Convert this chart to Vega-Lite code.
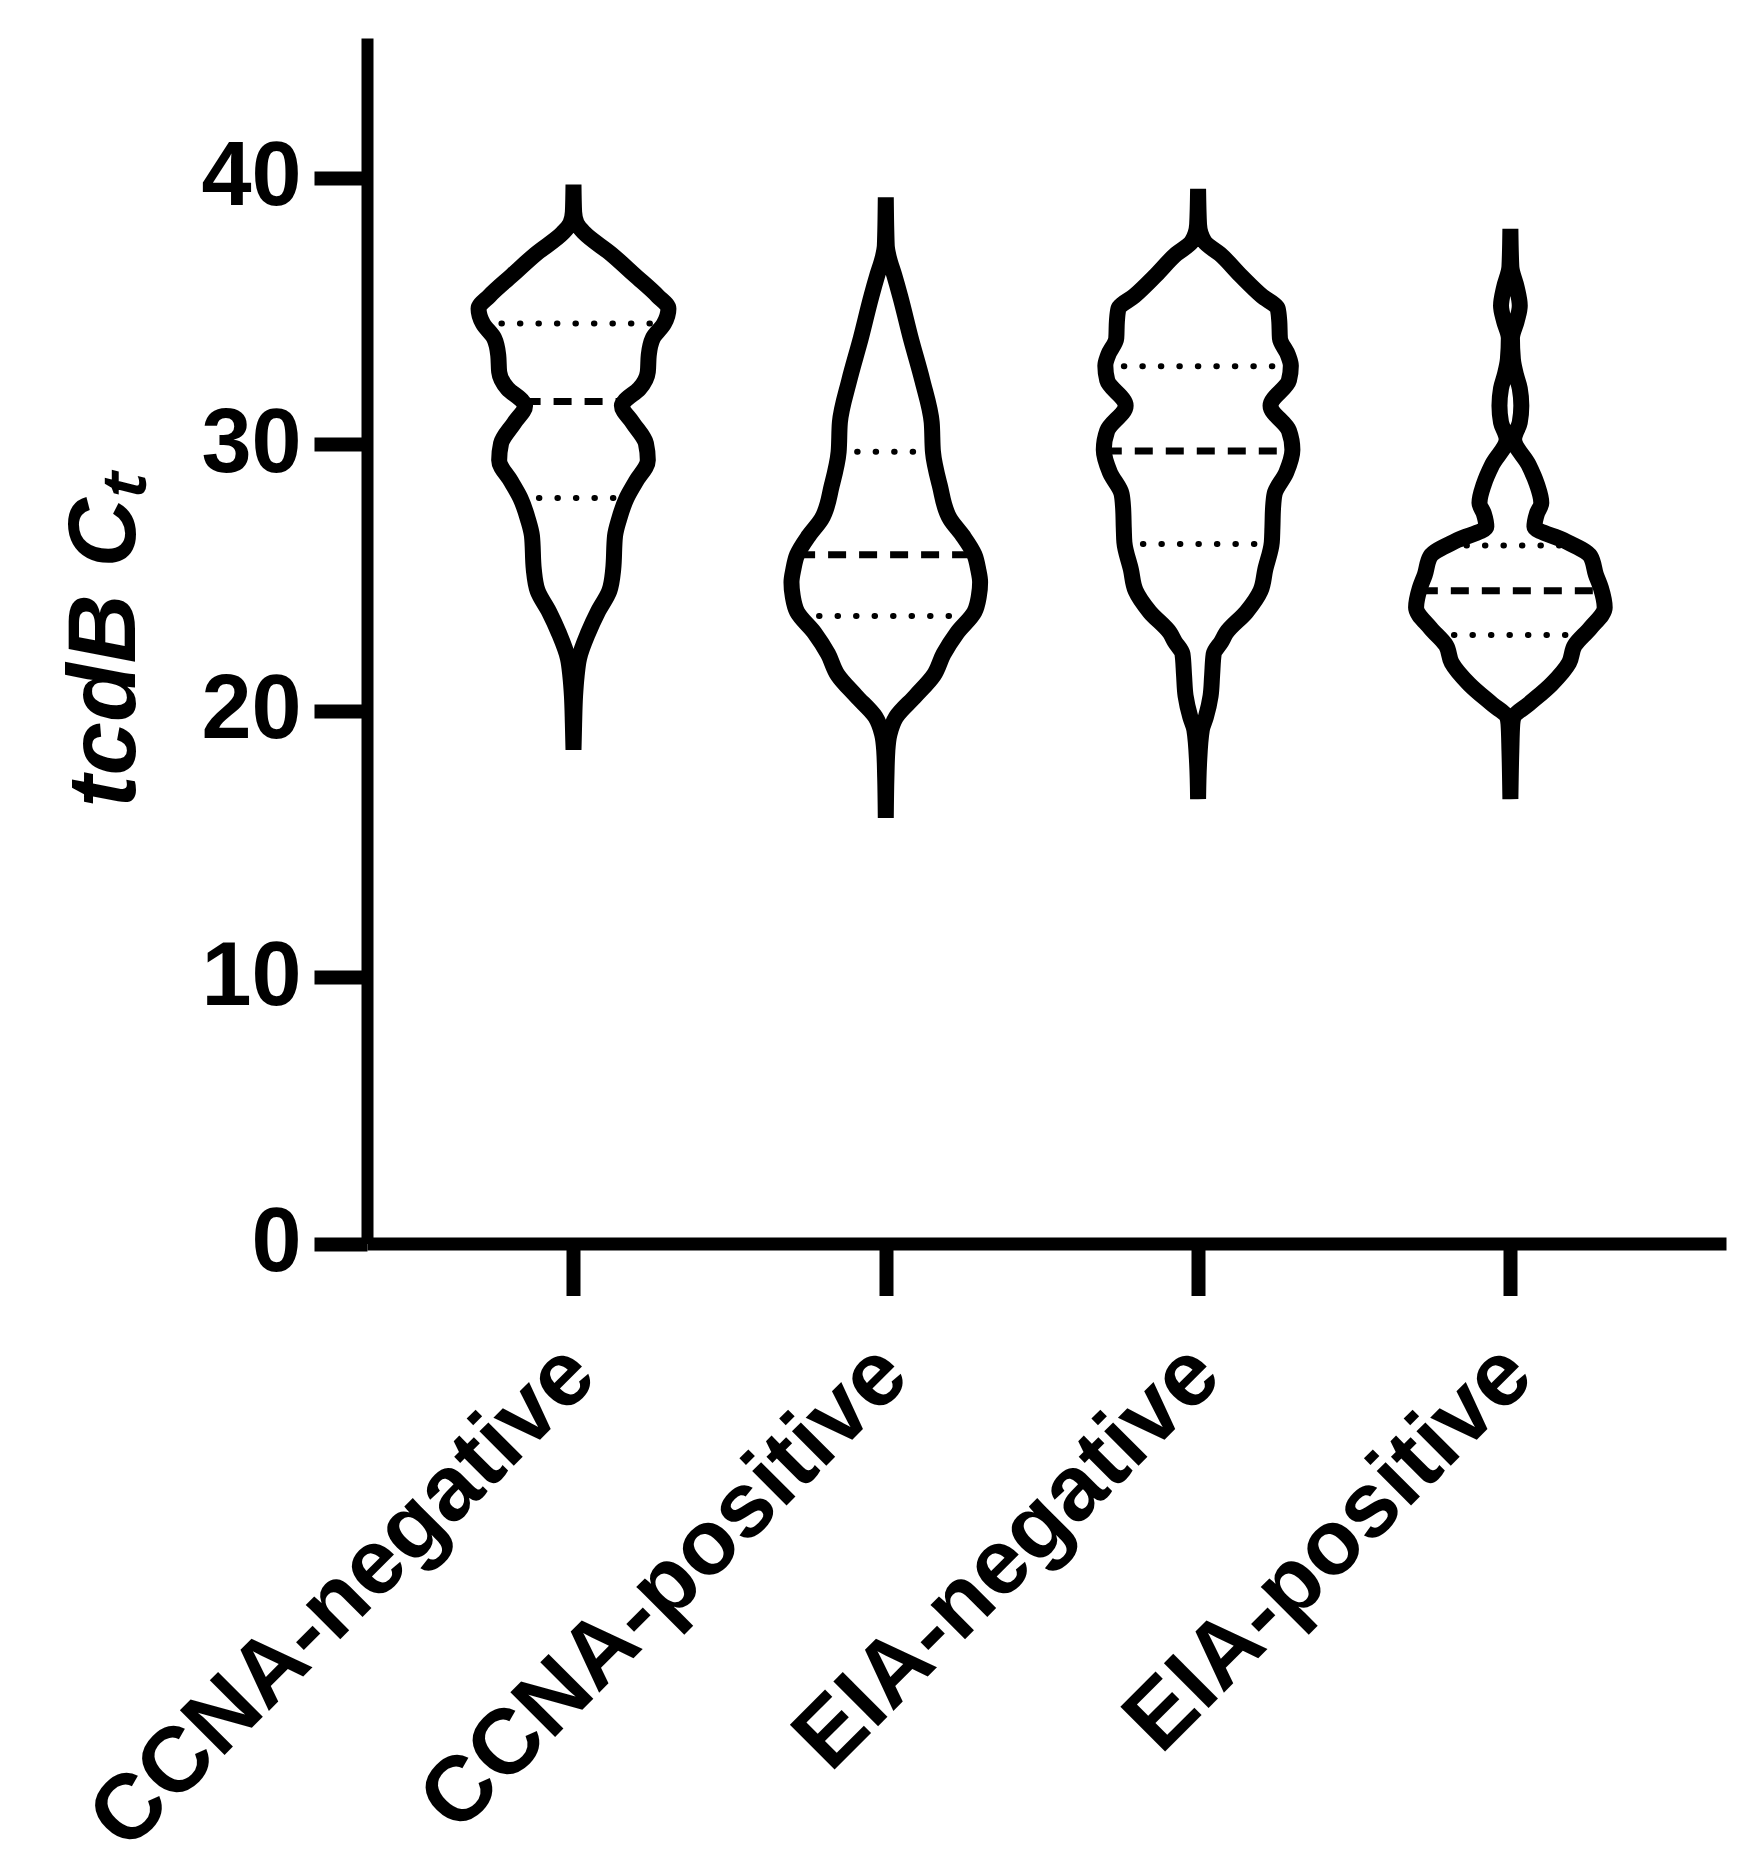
{
  "$schema": "https://vega.github.io/schema/vega-lite/v6.json",
  "width": 1359,
  "height": 1205.5,
  "autosize": "none",
  "padding": {"left": 367, "top": 38, "right": 22, "bottom": 624.5},
  "background": "white",
  "config": {
    "view": {"stroke": null},
    "axis": {"grid": false, "domainColor": "black", "tickColor": "black", "labelColor": "black", "titleColor": "black", "labelFont": "Liberation Sans", "titleFont": "Liberation Sans", "labelFontWeight": "bold", "titleFontWeight": "bold", "labelLimit": 0}
  },
  "datasets": {
    "violin": [
      {"g": 1, "ct": 18.53, "lo": 1.0, "hi": 1.0},
      {"g": 1, "ct": 19.5, "lo": 0.998, "hi": 1.002},
      {"g": 1, "ct": 20.55, "lo": 0.995, "hi": 1.005},
      {"g": 1, "ct": 21.3, "lo": 0.99, "hi": 1.01},
      {"g": 1, "ct": 21.97, "lo": 0.982, "hi": 1.018},
      {"g": 1, "ct": 22.92, "lo": 0.953, "hi": 1.047},
      {"g": 1, "ct": 23.71, "lo": 0.922, "hi": 1.078},
      {"g": 1, "ct": 24.5, "lo": 0.885, "hi": 1.115},
      {"g": 1, "ct": 25.29, "lo": 0.873, "hi": 1.127},
      {"g": 1, "ct": 26.56, "lo": 0.867, "hi": 1.133},
      {"g": 1, "ct": 27.19, "lo": 0.854, "hi": 1.146},
      {"g": 1, "ct": 27.98, "lo": 0.83, "hi": 1.17},
      {"g": 1, "ct": 28.61, "lo": 0.8, "hi": 1.2},
      {"g": 1, "ct": 29.4, "lo": 0.762, "hi": 1.238},
      {"g": 1, "ct": 30.03, "lo": 0.768, "hi": 1.232},
      {"g": 1, "ct": 30.82, "lo": 0.811, "hi": 1.189},
      {"g": 1, "ct": 31.45, "lo": 0.845, "hi": 1.155},
      {"g": 1, "ct": 31.61, "lo": 0.837, "hi": 1.163},
      {"g": 1, "ct": 32.09, "lo": 0.789, "hi": 1.211},
      {"g": 1, "ct": 32.72, "lo": 0.762, "hi": 1.238},
      {"g": 1, "ct": 33.35, "lo": 0.759, "hi": 1.241},
      {"g": 1, "ct": 33.98, "lo": 0.746, "hi": 1.254},
      {"g": 1, "ct": 34.53, "lo": 0.71, "hi": 1.29},
      {"g": 1, "ct": 35.09, "lo": 0.696, "hi": 1.304},
      {"g": 1, "ct": 35.56, "lo": 0.73, "hi": 1.27},
      {"g": 1, "ct": 36.35, "lo": 0.804, "hi": 1.196},
      {"g": 1, "ct": 37.14, "lo": 0.879, "hi": 1.121},
      {"g": 1, "ct": 37.93, "lo": 0.965, "hi": 1.035},
      {"g": 1, "ct": 38.3, "lo": 0.99, "hi": 1.01},
      {"g": 1, "ct": 38.72, "lo": 0.998, "hi": 1.002},
      {"g": 1, "ct": 39.75, "lo": 1.0, "hi": 1.0},

      {"g": 2, "ct": 15.97, "lo": 2.0, "hi": 2.0},
      {"g": 2, "ct": 17.5, "lo": 1.998, "hi": 2.002},
      {"g": 2, "ct": 18.5, "lo": 1.995, "hi": 2.005},
      {"g": 2, "ct": 19.13, "lo": 1.988, "hi": 2.012},
      {"g": 2, "ct": 19.76, "lo": 1.967, "hi": 2.033},
      {"g": 2, "ct": 20.55, "lo": 1.905, "hi": 2.095},
      {"g": 2, "ct": 21.34, "lo": 1.846, "hi": 2.154},
      {"g": 2, "ct": 22.13, "lo": 1.815, "hi": 2.185},
      {"g": 2, "ct": 22.92, "lo": 1.772, "hi": 2.228},
      {"g": 2, "ct": 23.71, "lo": 1.716, "hi": 2.284},
      {"g": 2, "ct": 24.3, "lo": 1.702, "hi": 2.298},
      {"g": 2, "ct": 24.82, "lo": 1.698, "hi": 2.302},
      {"g": 2, "ct": 25.3, "lo": 1.704, "hi": 2.296},
      {"g": 2, "ct": 25.85, "lo": 1.716, "hi": 2.284},
      {"g": 2, "ct": 26.56, "lo": 1.753, "hi": 2.247},
      {"g": 2, "ct": 27.19, "lo": 1.794, "hi": 2.206},
      {"g": 2, "ct": 28.45, "lo": 1.827, "hi": 2.173},
      {"g": 2, "ct": 29.72, "lo": 1.849, "hi": 2.151},
      {"g": 2, "ct": 30.82, "lo": 1.853, "hi": 2.147},
      {"g": 2, "ct": 32.4, "lo": 1.883, "hi": 2.117},
      {"g": 2, "ct": 33.98, "lo": 1.92, "hi": 2.08},
      {"g": 2, "ct": 35.56, "lo": 1.954, "hi": 2.046},
      {"g": 2, "ct": 36.35, "lo": 1.973, "hi": 2.027},
      {"g": 2, "ct": 37.0, "lo": 1.99, "hi": 2.01},
      {"g": 2, "ct": 37.46, "lo": 1.997, "hi": 2.003},
      {"g": 2, "ct": 39.27, "lo": 2.0, "hi": 2.0},

      {"g": 3, "ct": 16.68, "lo": 3.0, "hi": 3.0},
      {"g": 3, "ct": 18.0, "lo": 2.997, "hi": 3.003},
      {"g": 3, "ct": 19.29, "lo": 2.988, "hi": 3.012},
      {"g": 3, "ct": 19.76, "lo": 2.975, "hi": 3.025},
      {"g": 3, "ct": 20.55, "lo": 2.96, "hi": 3.04},
      {"g": 3, "ct": 21.34, "lo": 2.955, "hi": 3.045},
      {"g": 3, "ct": 22.13, "lo": 2.95, "hi": 3.05},
      {"g": 3, "ct": 22.6, "lo": 2.925, "hi": 3.075},
      {"g": 3, "ct": 22.92, "lo": 2.91, "hi": 3.09},
      {"g": 3, "ct": 23.71, "lo": 2.845, "hi": 3.155},
      {"g": 3, "ct": 24.5, "lo": 2.8, "hi": 3.2},
      {"g": 3, "ct": 25.29, "lo": 2.785, "hi": 3.215},
      {"g": 3, "ct": 26.32, "lo": 2.764, "hi": 3.236},
      {"g": 3, "ct": 26.87, "lo": 2.762, "hi": 3.238},
      {"g": 3, "ct": 27.6, "lo": 2.76, "hi": 3.24},
      {"g": 3, "ct": 28.14, "lo": 2.755, "hi": 3.245},
      {"g": 3, "ct": 28.93, "lo": 2.718, "hi": 3.282},
      {"g": 3, "ct": 29.79, "lo": 2.698, "hi": 3.302},
      {"g": 3, "ct": 30.51, "lo": 2.709, "hi": 3.291},
      {"g": 3, "ct": 31.45, "lo": 2.768, "hi": 3.232},
      {"g": 3, "ct": 32.4, "lo": 2.709, "hi": 3.291},
      {"g": 3, "ct": 32.95, "lo": 2.703, "hi": 3.297},
      {"g": 3, "ct": 33.35, "lo": 2.712, "hi": 3.288},
      {"g": 3, "ct": 33.98, "lo": 2.738, "hi": 3.262},
      {"g": 3, "ct": 34.61, "lo": 2.74, "hi": 3.26},
      {"g": 3, "ct": 35.09, "lo": 2.745, "hi": 3.255},
      {"g": 3, "ct": 35.56, "lo": 2.795, "hi": 3.205},
      {"g": 3, "ct": 36.35, "lo": 2.865, "hi": 3.135},
      {"g": 3, "ct": 37.14, "lo": 2.93, "hi": 3.07},
      {"g": 3, "ct": 37.61, "lo": 2.98, "hi": 3.02},
      {"g": 3, "ct": 38.25, "lo": 2.997, "hi": 3.003},
      {"g": 3, "ct": 39.59, "lo": 3.0, "hi": 3.0},

      {"g": 4, "ct": 16.68, "lo": 4.0, "hi": 4.0},
      {"g": 4, "ct": 18.5, "lo": 3.997, "hi": 4.003},
      {"g": 4, "ct": 19.5, "lo": 3.994, "hi": 4.006},
      {"g": 4, "ct": 19.76, "lo": 3.99, "hi": 4.01},
      {"g": 4, "ct": 20.24, "lo": 3.942, "hi": 4.058},
      {"g": 4, "ct": 21.0, "lo": 3.868, "hi": 4.132},
      {"g": 4, "ct": 21.8, "lo": 3.812, "hi": 4.188},
      {"g": 4, "ct": 22.45, "lo": 3.794, "hi": 4.206},
      {"g": 4, "ct": 23.1, "lo": 3.744, "hi": 4.256},
      {"g": 4, "ct": 23.87, "lo": 3.698, "hi": 4.302},
      {"g": 4, "ct": 24.6, "lo": 3.71, "hi": 4.29},
      {"g": 4, "ct": 25.1, "lo": 3.726, "hi": 4.274},
      {"g": 4, "ct": 25.8, "lo": 3.744, "hi": 4.256},
      {"g": 4, "ct": 26.4, "lo": 3.83, "hi": 4.17},
      {"g": 4, "ct": 26.9, "lo": 3.923, "hi": 4.077},
      {"g": 4, "ct": 27.4, "lo": 3.915, "hi": 4.085},
      {"g": 4, "ct": 27.8, "lo": 3.901, "hi": 4.099},
      {"g": 4, "ct": 28.5, "lo": 3.915, "hi": 4.085},
      {"g": 4, "ct": 29.24, "lo": 3.942, "hi": 4.058},
      {"g": 4, "ct": 30.19, "lo": 3.988, "hi": 4.012},
      {"g": 4, "ct": 30.82, "lo": 3.97, "hi": 4.03},
      {"g": 4, "ct": 31.45, "lo": 3.965, "hi": 4.035},
      {"g": 4, "ct": 32.1, "lo": 3.97, "hi": 4.03},
      {"g": 4, "ct": 32.6, "lo": 3.982, "hi": 4.018},
      {"g": 4, "ct": 33.19, "lo": 3.992, "hi": 4.008},
      {"g": 4, "ct": 33.98, "lo": 3.995, "hi": 4.005},
      {"g": 4, "ct": 34.61, "lo": 3.98, "hi": 4.02},
      {"g": 4, "ct": 35.2, "lo": 3.97, "hi": 4.03},
      {"g": 4, "ct": 35.9, "lo": 3.98, "hi": 4.02},
      {"g": 4, "ct": 36.67, "lo": 3.997, "hi": 4.003},
      {"g": 4, "ct": 38.09, "lo": 4.0, "hi": 4.0}
    ],
    "quart": [
      {"g": 1, "stat": "quartile", "ct": 34.53, "lo": 0.71, "hi": 1.29},
      {"g": 1, "stat": "median", "ct": 31.61, "lo": 0.837, "hi": 1.163},
      {"g": 1, "stat": "quartile", "ct": 27.98, "lo": 0.83, "hi": 1.17},
      {"g": 2, "stat": "quartile", "ct": 29.72, "lo": 1.849, "hi": 2.151},
      {"g": 2, "stat": "median", "ct": 25.85, "lo": 1.716, "hi": 2.284},
      {"g": 2, "stat": "quartile", "ct": 23.55, "lo": 1.727, "hi": 2.273},
      {"g": 3, "stat": "quartile", "ct": 32.93, "lo": 2.703, "hi": 3.297},
      {"g": 3, "stat": "median", "ct": 29.75, "lo": 2.698, "hi": 3.302},
      {"g": 3, "stat": "quartile", "ct": 26.26, "lo": 2.764, "hi": 3.236},
      {"g": 4, "stat": "quartile", "ct": 26.2, "lo": 3.8, "hi": 4.2},
      {"g": 4, "stat": "median", "ct": 24.5, "lo": 3.71, "hi": 4.29},
      {"g": 4, "stat": "quartile", "ct": 22.84, "lo": 3.76, "hi": 4.24}
    ]
  },
  "encoding": {
    "x": {
      "field": "lo", "type": "quantitative",
      "scale": {"domain": [0.3388, 4.6904], "nice": false, "zero": false},
      "axis": {
        "orient": "bottom", "title": null, "values": [1, 2, 3, 4],
        "labelExpr": "datum.value == 1 ? 'CCNA-negative' : datum.value == 2 ? 'CCNA-positive' : datum.value == 3 ? 'EIA-negative' : 'EIA-positive'",
        "labelAngle": -45, "labelAlign": "right", "labelBaseline": "middle",
        "labelFontSize": 92, "labelPadding": 64, "labelOffset": 6, "labelOverlap": false, "labelFlush": false, "labelBound": false,
        "tickSize": 52, "tickWidth": 14, "domainWidth": 13
      }
    },
    "x2": {"field": "hi"},
    "y": {
      "field": "ct", "type": "quantitative",
      "scale": {"domain": [0, 45.25], "nice": false, "zero": false},
      "axis": {
        "orient": "left", "title": "tcdB Cₜ", "values": [0, 10, 20, 30, 40],
        "labelFontSize": 90, "labelPadding": 13, "tickSize": 53, "tickWidth": 14, "domainWidth": 12,
        "titleFontSize": 96, "titleFontStyle": "italic", "titlePadding": 46
      }
    }
  },
  "layer": [
    {
      "data": {"name": "violin"},
      "mark": {"type": "area", "orient": "horizontal", "interpolate": "monotone", "fill": "white", "stroke": "black", "strokeWidth": 16, "strokeJoin": "miter"},
      "encoding": {"detail": {"field": "g", "type": "nominal"}}
    },
    {
      "data": {"name": "quart"},
      "transform": [{"filter": "datum.stat == 'quartile'"}],
      "mark": {"type": "rule", "color": "black", "strokeWidth": 6, "strokeCap": "round", "strokeDash": [0.5, 18]}
    },
    {
      "data": {"name": "quart"},
      "transform": [{"filter": "datum.stat == 'median'"}],
      "mark": {"type": "rule", "color": "black", "strokeWidth": 7, "strokeCap": "butt", "strokeDash": [18, 13]}
    }
  ]
}
